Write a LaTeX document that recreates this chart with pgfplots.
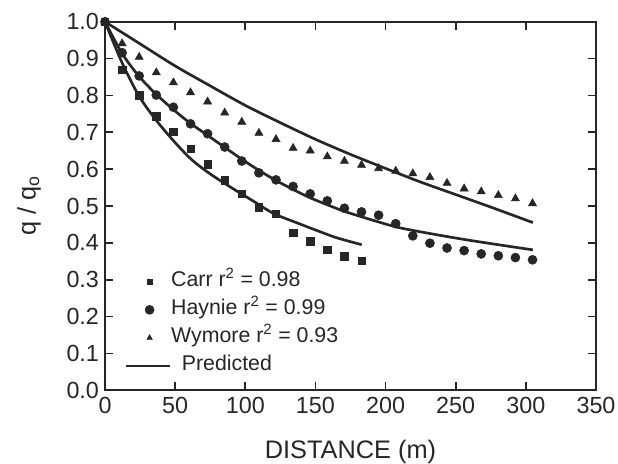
\documentclass[border=0pt]{standalone}
\usepackage{fontspec}
\setmainfont{Liberation Sans}
\usepackage{pgfplots}
\pgfplotsset{compat=1.18}

\definecolor{ink}{gray}{0.15}

% measured data, x = distance (m), y = q/qo
\pgfplotstableread{
x       y
0       1.000
12.19   0.869
24.38   0.801
36.57   0.743
48.76   0.702
60.95   0.655
73.14   0.613
85.33   0.570
97.52   0.533
109.71  0.497
121.90  0.479
134.09  0.428
146.28  0.404
158.47  0.381
170.66  0.363
182.85  0.351
}\carr

\pgfplotstableread{
x       y
0       1.000
12.19   0.916
24.38   0.853
36.57   0.801
48.76   0.768
60.95   0.723
73.14   0.696
85.33   0.660
97.52   0.622
109.71  0.590
121.90  0.571
134.09  0.553
146.28  0.533
158.47  0.514
170.66  0.494
182.85  0.484
195.04  0.475
207.23  0.452
219.42  0.419
231.61  0.399
243.80  0.386
255.99  0.379
268.18  0.370
280.37  0.365
292.56  0.360
304.75  0.354
}\haynie

\pgfplotstableread{
x       y
0       1.000
12.19   0.941
24.38   0.904
36.57   0.862
48.76   0.835
60.95   0.808
73.14   0.783
85.33   0.753
97.52   0.728
109.71  0.698
121.90  0.681
134.09  0.657
146.28  0.650
158.47  0.634
170.66  0.622
182.85  0.611
195.04  0.602
207.23  0.595
219.42  0.588
231.61  0.578
243.80  0.562
255.99  0.547
268.18  0.539
280.37  0.529
292.56  0.520
304.75  0.507
}\wymore

\begin{document}
\begin{tikzpicture}
\begin{axis}[
    at={(0pt,0pt)}, anchor=south west,
    scale only axis,
    width=368.25pt, height=276.4pt,
    xmin=0, xmax=350, ymin=0, ymax=1,
    clip=false,
    axis line style={line width=1.6pt, ink},
    tick align=inside,
    xtick pos=both, ytick pos=both,
    major tick length=6pt,
    tick style={line width=1.2pt, ink},
    xtick={0,50,100,150,200,250,300,350},
    xticklabels={0,50,100,150,200,250,300,350},
    ytick={0,0.1,0.2,0.3,0.4,0.5,0.6,0.7,0.8,0.9,1},
    yticklabels={0.0,0.1,0.2,0.3,0.4,0.5,0.6,0.7,0.8,0.9,1.0},
    tick label style={font=\fontsize{17.5}{19}\selectfont, text=ink},
    yticklabel style={xshift=-1pt},
    xticklabel style={yshift=-1.5pt},
    xlabel={DISTANCE (m)},
    ylabel={q / q\textsubscript{o}},
    label style={font=\fontsize{19}{21}\selectfont, text=ink},
    xlabel style={at={(axis description cs:0.5,0)}, anchor=base, yshift=-51pt},
    ylabel style={at={(axis description cs:0,0.5)}, anchor=center, yshift=57pt},
    legend cell align=left,
    legend style={draw=none, fill=none, inner sep=0pt,
        at={(axis description cs:0.041,0.322)}, anchor=north west,
        font=\fontsize{16}{18}\selectfont, text=ink,
        nodes={inner sep=0pt, text height=11pt, text depth=4pt},
        row sep=6pt, column sep=0pt},
]
\addplot[only marks, mark=square*, mark size=2.8pt, ink,
    legend image post style={mark size=1.9pt}] table {\carr};
\addlegendentry{Carr r\textsuperscript{2} = 0.98}
\addplot[only marks, mark=*, mark size=3.4pt, ink] table {\haynie};
\addlegendentry{Haynie r\textsuperscript{2} = 0.99}
\addplot[only marks, mark=triangle*, mark size=3.5pt, ink,
    legend image post style={mark size=2.4pt}] table {\wymore};
\addlegendentry{Wymore r\textsuperscript{2} = 0.93}

% predicted curves
\addplot[ink, line width=2pt, smooth,
    legend image code/.code={\draw[ink, line width=1.6pt] (-0.31cm,0cm) -- (0.84cm,0cm);}]
    coordinates {(0,1) (12,0.89) (24,0.80) (36,0.735) (50,0.672) (62,0.625)
    (75,0.587) (90,0.550) (105,0.515) (120,0.480) (135,0.457) (150,0.435)
    (165,0.414) (183,0.395)};
\addlegendentry{\hspace*{8pt}Predicted}
\addplot[ink, line width=2pt, smooth, forget plot]
    coordinates {(0,1) (12,0.915) (24,0.853) (36,0.805) (48,0.764) (60,0.727)
    (73,0.692) (85,0.660) (97.5,0.627) (110,0.596) (122,0.569) (135,0.543)
    (147,0.521) (160,0.501) (171,0.485) (193,0.459) (210,0.441) (235,0.423)
    (258,0.408) (282,0.394) (305,0.381)};
\addplot[ink, line width=2pt, smooth, forget plot]
    coordinates {(0,1) (25,0.940) (50,0.880) (75,0.826) (100,0.773) (125,0.726)
    (150,0.681) (175,0.640) (200,0.602) (225,0.565) (250,0.531) (275,0.497)
    (305,0.455)};
\end{axis}

% bottom minor ticks only
\begin{axis}[
    at={(0pt,0pt)}, anchor=south west,
    scale only axis,
    width=368.25pt, height=276.4pt,
    xmin=0, xmax=350, ymin=0, ymax=1,
    axis line style={draw=none},
    tick align=inside,
    xtick=\empty, ytick=\empty,
    minor xtick={0,10,...,350},
    xtick pos=left,
    minor tick length=3.6pt,
    minor tick style={line width=1pt, ink},
]
\end{axis}

\pgfresetboundingbox
\path[use as bounding box] (-78.75pt,-54.75pt) rectangle (384.75pt,292.7pt);
\end{tikzpicture}
\end{document}
